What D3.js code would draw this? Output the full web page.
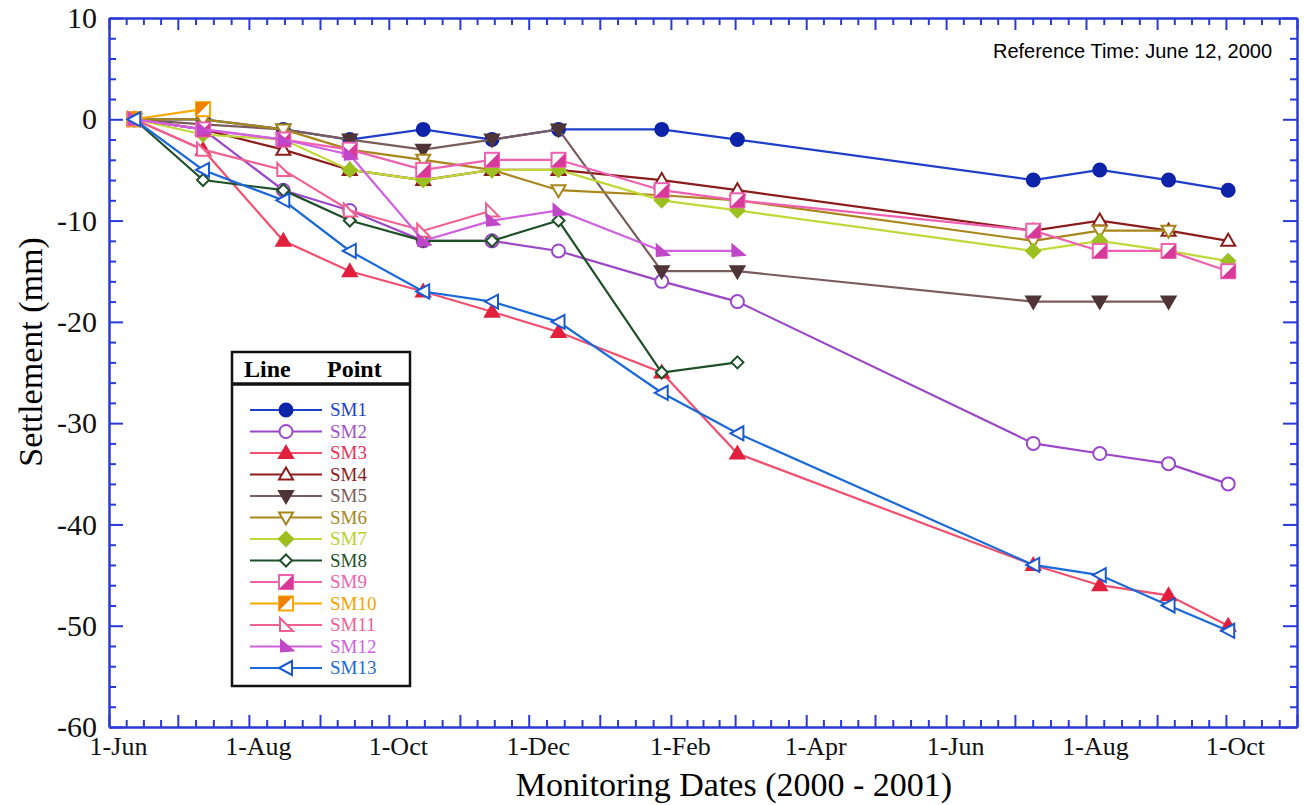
<!DOCTYPE html>
<html>
<head>
<meta charset="utf-8">
<script src="https://cdn.jsdelivr.net/npm/d3@7"></script>
<style>
  body { margin: 0; background: #fff; }
  .axis path, .axis line { stroke: #2a3ad8; stroke-width: 2; }
  .axis text { font-family: "Liberation Serif", "Times New Roman", serif; fill: #111; }
</style>
</head>
<body>
<svg id="chart"></svg>
<script>
// measuring dates (reference time June 12, 2000)
const dates = ["2000-06-12", "2000-07-12", "2000-08-16", "2000-09-14", "2000-10-16", "2000-11-15",
  "2000-12-14", "2001-01-28", "2001-03-02", "2001-07-09", "2001-08-07", "2001-09-06", "2001-10-02"];

// settlement (mm), null = not measured
const sm1  = [0, 0, -1, -2, -1, -2, -1, -1, -2, -6, -5, -6, -7];
const sm2  = [0, -1, -7, -9, -12, -12, -13, -16, -18, -32, -33, -34, -36];
const sm3  = [0, -3, -12, -15, -17, -19, -21, -25, -33, -44, -46, -47, -50];
const sm4  = [0, -1, -3, -5, -6, -5, -5, -6, -7, -11, -10, -11, -12];
const sm5  = [0, -0.5, -1, -2, -3, -2, -1, -15, -15, -18, -18, -18, null];
const sm6  = [0, 0, -1, -3, -4, -5, -7, -7.5, -8, -12, -11, -11, null];
const sm7  = [0, -1.5, -2, -5, -6, -5, -5, -8, -9, -13, -12, -13, -14];
const sm8  = [0, -6, -7, -10, -12, -12, -10, -25, -24, null, null, null, null];
const sm9  = [0, -1, -2, -3, -5, -4, -4, -7, -8, -11, -13, -13, -15];
const sm10 = [0, 1, null, null, null, null, null, null, null, null, null, null, null];
const sm11 = [0, -3, -5, -9, -11, -9, null, null, null, null, null, null, null];
const sm12 = [0, -1, -2, -3.5, -12, -10, -9, -13, -13, null, null, null, null];
const sm13 = [0, -5, -8, -13, -17, -18, -20, -27, -31, -44, -45, -48, -50.5];

const seriesNames = ["SM1", "SM2", "SM3", "SM4", "SM5", "SM6", "SM7", "SM8", "SM9", "SM10", "SM11", "SM12", "SM13"];
const seriesValues = [sm1, sm2, sm3, sm4, sm5, sm6, sm7, sm8, sm9, sm10, sm11, sm12, sm13];

// tick labels
const yMajor = [-60, -50, -40, -30, -20, -10, 0, 10];
const xLabelMonths = ["1-Jun", "1-Aug", "1-Oct", "1-Dec", "1-Feb", "1-Apr", "1-Jun", "1-Aug", "1-Oct"];

// look of each series: line colour, marker colour, marker shape
const styles = {
  SM1:  {line: "#1f3fc8", mark: "#0d23a8", label: "#2040d0", shape: "circle", fill: true},
  SM2:  {line: "#9a48c8", mark: "#9a48c8", label: "#a050d0", shape: "circle", fill: false},
  SM3:  {line: "#f0506e", mark: "#e0203c", label: "#e8305a", shape: "triUp", fill: true},
  SM4:  {line: "#8b1c1c", mark: "#8b1c1c", label: "#8b1c1c", shape: "triUp", fill: false},
  SM5:  {line: "#7a5c5c", mark: "#4e3434", label: "#7a5c5c", shape: "triDown", fill: true},
  SM6:  {line: "#a8861c", mark: "#a8861c", label: "#a8861c", shape: "triDown", fill: false},
  SM7:  {line: "#c0d838", mark: "#9cc020", label: "#b8d030", shape: "diamond", fill: true},
  SM8:  {line: "#1e5028", mark: "#1e5028", label: "#1e5028", shape: "diamondSmall", fill: false},
  SM9:  {line: "#f060b0", mark: "#d83898", label: "#f060b0", shape: "halfLR", fill: true},
  SM10: {line: "#f8a800", mark: "#f08000", label: "#f8a000", shape: "halfUL", fill: true},
  SM11: {line: "#f06090", mark: "#f06090", label: "#f06090", shape: "rightTri", fill: false},
  SM12: {line: "#d060e0", mark: "#c048c8", label: "#d060e0", shape: "flag", fill: true},
  SM13: {line: "#1a6ad8", mark: "#1a5ad0", label: "#1a6ad8", shape: "triLeft", fill: false}
};

const W = 1304, H = 805;
const margin = {top: 18, right: 7, bottom: 78, left: 109};
const width = W - margin.left - margin.right;
const height = H - margin.top - margin.bottom;

const parse = d3.timeParse("%Y-%m-%d");
const xDates = dates.map(parse);

const x = d3.scaleTime()
    .domain([new Date(2000, 5, 1), new Date(2001, 10, 1)])
    .range([0, width]);
const y = d3.scaleLinear()
    .domain([-60, 10])
    .range([height, 0]);

const svg = d3.select("#chart").attr("width", W).attr("height", H);
const chart = svg.append("g").attr("transform", `translate(${margin.left},${margin.top})`);

// month ticks and quarter-month minor ticks
const months = d3.timeMonth.range(new Date(2000, 5, 1), new Date(2001, 10, 2));
const minor = [];
for (let i = 0; i < months.length - 1; i++) {
  const a = +months[i], b = +months[i + 1];
  for (let k = 1; k < 4; k++) minor.push(new Date(a + (b - a) * k / 4));
}
const yMinor = d3.range(-60, 10.1, 2).filter(v => v % 10 !== 0);

// bottom axis
const xAxisG = chart.append("g").attr("class", "axis")
    .attr("transform", `translate(0,${height})`)
    .call(d3.axisBottom(x).tickValues(months).tickSize(-12).tickSizeOuter(0).tickPadding(10)
      .tickFormat((d, i) => i % 2 === 0 ? xLabelMonths[i / 2] : ""));
xAxisG.selectAll("text").attr("font-size", 26).attr("dx", 9);
xAxisG.selectAll(".tick text").filter(function() { return this.textContent === ""; }).remove();
chart.append("g").attr("class", "axis")
    .attr("transform", `translate(0,${height})`)
    .call(d3.axisBottom(x).tickValues(minor).tickSize(-7).tickSizeOuter(0).tickFormat(""))
    .selectAll(".tick text").remove();

// top axis
chart.append("g").attr("class", "axis")
    .call(d3.axisTop(x).tickValues(months).tickSize(-12).tickSizeOuter(0).tickFormat(""))
    .selectAll(".tick text").remove();
chart.append("g").attr("class", "axis")
    .call(d3.axisTop(x).tickValues(minor).tickSize(-7).tickSizeOuter(0).tickFormat(""))
    .selectAll(".tick text").remove();

// left axis (plain hyphen for negatives, like the original)
const yAxisG = chart.append("g").attr("class", "axis")
    .call(d3.axisLeft(y).tickValues(yMajor).tickSize(-14).tickSizeOuter(0).tickPadding(12)
      .tickFormat(d => String(d)));
yAxisG.selectAll("text").attr("font-size", 30);
chart.append("g").attr("class", "axis")
    .call(d3.axisLeft(y).tickValues(yMinor).tickSize(-7).tickSizeOuter(0).tickFormat(""))
    .selectAll(".tick text").remove();

// right axis
chart.append("g").attr("class", "axis")
    .attr("transform", `translate(${width},0)`)
    .call(d3.axisRight(y).tickValues(yMajor).tickSize(-14).tickSizeOuter(0).tickFormat(""))
    .selectAll(".tick text").remove();
chart.append("g").attr("class", "axis")
    .attr("transform", `translate(${width},0)`)
    .call(d3.axisRight(y).tickValues(yMinor).tickSize(-7).tickSizeOuter(0).tickFormat(""))
    .selectAll(".tick text").remove();

// axis titles
svg.append("text")
    .attr("x", 734).attr("y", 796)
    .attr("text-anchor", "middle")
    .attr("font-family", "Liberation Serif, Times New Roman, serif")
    .attr("font-size", 34)
    .text("Monitoring Dates (2000 - 2001)");
svg.append("text")
    .attr("transform", "translate(42,352) rotate(-90)")
    .attr("text-anchor", "middle")
    .attr("font-family", "Liberation Serif, Times New Roman, serif")
    .attr("font-size", 34)
    .text("Settlement (mm)");
svg.append("text")
    .attr("x", 1272).attr("y", 58)
    .attr("text-anchor", "end")
    .attr("font-family", "Liberation Sans, Arial, sans-serif")
    .attr("font-size", 20)
    .text("Reference Time: June 12, 2000");

// marker shapes (paths around 0,0)
function shapePath(shape) {
  switch (shape) {
    case "triUp": return "M0,-7L7,5L-7,5Z";
    case "triDown": return "M0,7L7,-5L-7,-5Z";
    case "diamond": return "M0,-7L7,0L0,7L-7,0Z";
    case "diamondSmall": return "M0,-6L6,0L0,6L-6,0Z";
    case "rightTri": return "M-6,-7L-6,6L7,6Z";
    case "flag": return "M-5,-6L-5,5L7,4Z";
    case "triLeft": return "M-7,0L6,-7L6,7Z";
    default: return "";
  }
}

function drawMarker(g, cx, cy, st) {
  const m = g.append("g").attr("transform", `translate(${cx},${cy})`);
  if (st.shape === "circle") {
    m.append("circle").attr("r", 6.5)
      .attr("fill", st.fill ? st.mark : "#fff")
      .attr("stroke", st.mark).attr("stroke-width", 2);
  } else if (st.shape === "halfLR" || st.shape === "halfUL") {
    m.append("rect").attr("x", -7).attr("y", -7).attr("width", 14).attr("height", 14)
      .attr("fill", "#fff").attr("stroke", st.line).attr("stroke-width", 2);
    m.append("path")
      .attr("d", st.shape === "halfLR" ? "M7,-7L7,7L-7,7Z" : "M-7,-7L7,-7L-7,7Z")
      .attr("fill", st.mark);
  } else {
    m.append("path").attr("d", shapePath(st.shape))
      .attr("fill", st.fill ? st.mark : "#fff")
      .attr("stroke", st.mark).attr("stroke-width", 2)
      .attr("stroke-linejoin", "miter");
  }
}

const line = d3.line()
    .defined(d => d.v !== null)
    .x(d => x(d.date))
    .y(d => y(d.v));

seriesNames.forEach((name, si) => {
  const st = styles[name];
  const pts = seriesValues[si].map((v, i) => ({date: xDates[i], v: v}));
  const g = chart.append("g");
  g.append("path")
    .datum(pts)
    .attr("fill", "none")
    .attr("stroke", st.line)
    .attr("stroke-width", 2.2)
    .attr("d", line);
  pts.filter(d => d.v !== null).forEach(d => drawMarker(g, x(d.date), y(d.v), st));
});

// legend box
const lg = svg.append("g").attr("transform", "translate(232,352)");
lg.append("rect").attr("width", 178).attr("height", 334)
  .attr("fill", "#fff").attr("stroke", "#111").attr("stroke-width", 2.5);
lg.append("line").attr("x1", 0).attr("x2", 178).attr("y1", 32).attr("y2", 32)
  .attr("stroke", "#111").attr("stroke-width", 3.5);
lg.append("text").attr("x", 12).attr("y", 25)
  .attr("font-family", "Liberation Serif, Times New Roman, serif")
  .attr("font-size", 24).attr("font-weight", "bold").text("Line");
lg.append("text").attr("x", 95).attr("y", 25)
  .attr("font-family", "Liberation Serif, Times New Roman, serif")
  .attr("font-size", 24).attr("font-weight", "bold").text("Point");

seriesNames.forEach((name, i) => {
  const st = styles[name];
  const ly = 58 + i * 21.5;
  lg.append("line").attr("x1", 18).attr("x2", 90).attr("y1", ly).attr("y2", ly)
    .attr("stroke", st.line).attr("stroke-width", 2);
  drawMarker(lg, 54, ly, st);
  lg.append("text").attr("x", 98).attr("y", ly + 6)
    .attr("font-family", "Liberation Serif, Times New Roman, serif")
    .attr("font-size", 19)
    .attr("fill", st.label)
    .text(name);
});
</script>
</body>
</html>
